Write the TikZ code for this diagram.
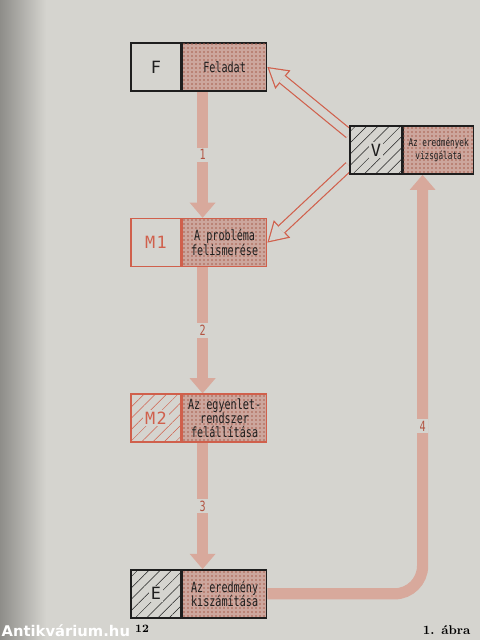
\documentclass[tikz,border=0pt]{standalone}
\usepackage{fontspec}
\usetikzlibrary{positioning, arrows.meta, patterns.meta, backgrounds}

\newfontfamily\labfont{DejaVu Sans Mono}[FakeStretch=0.72]
\newfontfamily\keyfont{DejaVu Sans Mono}[LetterSpace=8]
\newfontfamily\markfont{DejaVu Sans}

\definecolor{pagecol}{HTML}{D5D4CF}
\definecolor{spinecol}{HTML}{8E8D89}
\definecolor{inkred}{HTML}{D0604C}
\definecolor{stipcol}{HTML}{CCA69D}
\definecolor{dotcol}{HTML}{A8604F}
\definecolor{bandcol}{HTML}{D8A99C}
\definecolor{numcol}{HTML}{B25442}
\definecolor{inkcol}{HTML}{1E1E1E}

\newcommand{\clearbg}[1]{{\setlength{\fboxsep}{1.2pt}\colorbox{pagecol}{#1}}}

\begin{document}
\begin{tikzpicture}[
		x=0.25mm, y=-0.25mm,
		node distance=31.5mm and 0pt,
		keybox/.style={
			rectangle,
			draw=inkcol,
			line width=0.4mm,
			fill=pagecol,
			text=inkcol,
			minimum width=12.5mm,
			minimum height=12mm,
			inner sep=0pt,
			font=\keyfont\fontsize{12}{12}\selectfont
		},
		textbox/.style={
			rectangle,
			draw=inkcol,
			line width=0.4mm,
			fill=stipcol,
			postaction={pattern={Dots[distance=1mm, radius=0.2mm]}, pattern color=dotcol},
			text=inkcol,
			minimum width=21mm,
			minimum height=12mm,
			inner sep=1pt,
			align=center,
			font=\labfont\fontsize{10}{10.2}\selectfont
		},
		redbox/.style={
			draw=inkred
		},
		hatched/.style={
			postaction={pattern={Lines[angle=45, distance=2mm, line width=0.35pt]}, pattern color=#1}
		},
		band/.style={
			draw=bandcol,
			line width=2.8mm,
			-{Triangle[length=3.8mm, width=6.5mm, line width=0pt]}
		},
		num/.style={
			sharp corners,
			fill=pagecol,
			text=numcol,
			inner sep=1.5pt,
			font=\labfont\fontsize{10}{10}\selectfont
		},
		hollow/.style={
			draw=inkred,
			line width=2.6mm,
			-{Triangle[length=5mm, width=6mm, line width=0pt]}
		},
		hollowin/.style={
			draw=pagecol,
			line width=2mm,
			shorten >=0.58mm,
			-{Triangle[length=4.1mm, width=4.9mm, line width=0pt]}
		}
		]
		
		\useasboundingbox (0,0) rectangle (480,640);
		
		% page
		\begin{scope}[on background layer]
			\fill[pagecol] (0,0) rectangle (480,640);
			\shade[left color=spinecol, right color=pagecol] (0,0) rectangle (46,640);
		\end{scope}
		
		\node[keybox] (F) at (156,67) {F};
		\node[textbox, right=of F] (Ftext) {Feladat};
		
		\node[keybox, redbox, text=inkred, below=of F] (M1) {M1};
		\node[textbox, redbox, right=of M1] (M1text) {A probléma\\felismerése};
		
		\node[keybox, redbox, text=inkred, hatched=inkred, below=of M1] (M2) {\clearbg{M2}};
		\node[textbox, redbox, right=of M2] (M2text) {Az egyenlet-\\rendszer\\felállítása};
		
		\node[keybox, hatched=inkcol, below=of M2] (E) {\clearbg{E}};
		\node[textbox, right=of E] (Etext) {Az eredmény\\kiszámítása};
		
		\node[keybox, minimum width=13mm, hatched=inkcol] (V) at (376,150) {\clearbg{V}};
		\node[textbox, minimum width=17.5mm, font=\labfont\fontsize{7.6}{9.5}\selectfont, right=of V] (Vtext) {Az eredmények\\vizsgálata};
		
		% connectors
		\begin{scope}[on background layer]
			\draw[band] ([xshift=-5.5mm]Ftext.south) -- node[num] {1} ([xshift=-5.5mm]M1text.north);
			\draw[band] ([xshift=-5.5mm]M1text.south) -- node[num] {2} ([xshift=-5.5mm]M2text.north);
			\draw[band] ([xshift=-5.5mm]M2text.south) -- node[num] {3} ([xshift=-5.5mm]Etext.north);
			\draw[band, rounded corners=7mm] (Etext.east) -| node[num, pos=0.7] {4} ([xshift=-4mm]Vtext.south);
			
			\draw[hollow] ([yshift=4mm]V.west) -- (Ftext.east);
			\draw[hollowin] ([yshift=4mm]V.west) -- (Ftext.east);
			\draw[hollow] ([yshift=-4mm]V.west) -- (M1text.east);
			\draw[hollowin] ([yshift=-4mm]V.west) -- (M1text.east);
		\end{scope}
		
		\node[font=\bfseries\footnotesize] (pageno) at (142,629) {12};
		\node[font=\bfseries\small, anchor=west] (caption) at (418,630) {1. ábra};
		\node[font=\markfont\bfseries\fontsize{10.5}{11}\selectfont, text=white, anchor=west, inner sep=1pt] (mark) at (0,631) {Antikvárium.hu};
		
	\end{tikzpicture}
\end{document}
